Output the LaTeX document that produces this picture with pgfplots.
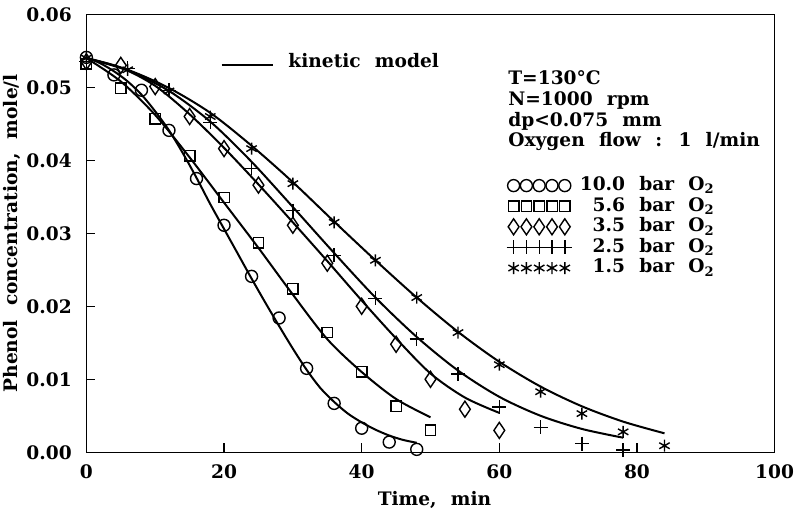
\documentclass[border=0pt]{standalone}
\usepackage{fontspec}
\setmainfont[WordSpace=2.2]{DejaVu Serif}
\usepackage{pgfplots}
\pgfplotsset{compat=1.18}

\pgfplotstableread{
t c
0 0.0541
4 0.0517
8 0.0496
12 0.0441
16 0.0375
20 0.0311
24 0.0241
28 0.0184
32 0.0115
36 0.0067
40 0.0033
44 0.0014
48 0.0004
}\dataA
\pgfplotstableread{
t c
0 0.0532
5 0.0499
10 0.0457
15 0.0406
20 0.0349
25 0.0287
30 0.0224
35 0.0164
40 0.0110
45 0.0063
50 0.0030
}\dataB
\pgfplotstableread{
t c
0 0.0535
5 0.0530
10 0.0501
15 0.0460
20 0.0416
25 0.0366
30 0.0311
35 0.0259
40 0.0200
45 0.0148
50 0.0100
55 0.0059
60 0.0030
}\dataC
\pgfplotstableread{
t c
0 0.0535
6 0.0526
12 0.0496
18 0.0452
24 0.0389
30 0.0331
36 0.0270
42 0.0211
48 0.0155
54 0.0107
60 0.0062
66 0.0034
72 0.0012
78 0.0003
}\dataD
\pgfplotstableread{
t c
0 0.0540
6 0.0524
12 0.0495
18 0.0460
24 0.0416
30 0.0368
36 0.0315
42 0.0263
48 0.0212
54 0.0164
60 0.0120
66 0.0083
72 0.0053
78 0.0028
84 0.0009
}\dataE

\pgfplotsset{fivemarks/.style={legend image code/.code={%
  \draw[only marks, mark repeat=1] plot coordinates {(0pt,0pt)(6.4pt,0pt)(12.8pt,0pt)(19.2pt,0pt)(25.6pt,0pt)};}}}

\begin{document}
\bfseries\fontsize{9.3}{10.3}\selectfont
\begin{tikzpicture}[font=\bfseries\fontsize{9.3}{10.3}\selectfont]
\begin{axis}[name=ax, scale only axis, width=344.1pt, height=219pt,
  xmin=0, xmax=100, ymin=0, ymax=0.06, clip=false,
  xtick={0,20,40,60,80,100}, ytick={0,0.01,0.02,0.03,0.04,0.05,0.06},
  scaled y ticks=false,
  yticklabel style={/pgf/number format/fixed, /pgf/number format/fixed zerofill, /pgf/number format/precision=2},
  /pgf/number format/assume math mode=true,
  tick align=inside, major tick length=4.5pt, xtick pos=bottom, ytick pos=left,
  axis line style={line width=0.75pt},
  every tick/.style={line width=0.6pt, black},
  xticklabel style={yshift=-3pt}, yticklabel style={xshift=-4pt},
  xlabel={Time, min}, ylabel={Phenol concentration, mole/l},
  ylabel style={yshift=-3.5pt}, xlabel style={xshift=2pt},
  legend style={at={(axis cs:61.0,0.0380)}, anchor=north west, draw=none, fill=none,
    inner sep=0pt, row sep=0pt, column sep=3pt,
    nodes={inner sep=1pt, text height=6.6pt, text depth=1.7pt, anchor=west}},
  legend cell align=left,
]
\addplot[only marks, mark=o, mark size=3pt, mark options={line width=0.7pt}, fivemarks] table[x=t,y=c] {\dataA};
\addlegendentry{10.0 bar O\textsubscript{2}}
\addplot[only marks, mark=square, mark size=2.6pt, mark options={line width=0.7pt}, fivemarks] table[x=t,y=c] {\dataB};
\addlegendentry{\hphantom{1}5.6 bar O\textsubscript{2}}
\addplot[only marks, mark=diamond, mark size=4pt, mark options={line width=0.7pt, xscale=0.9}, fivemarks] table[x=t,y=c] {\dataC};
\addlegendentry{\hphantom{1}3.5 bar O\textsubscript{2}}
\addplot[only marks, mark=+, mark size=3.5pt, mark options={line width=0.7pt}, fivemarks] table[x=t,y=c] {\dataD};
\addlegendentry{\hphantom{1}2.5 bar O\textsubscript{2}}
\addplot[only marks, mark=asterisk, mark size=3pt, mark options={line width=0.7pt}, fivemarks] table[x=t,y=c] {\dataE};
\addlegendentry{\hphantom{1}1.5 bar O\textsubscript{2}}

% kinetic model curves
\addplot[forget plot, no marks, smooth, line width=1pt] coordinates {
(0,0.0541) (2,0.0533) (4,0.0522) (6,0.0508) (8,0.0490) (10,0.0467) (12,0.0441) (14,0.0410) (16,0.0376) (18,0.0340) (20,0.0306) (22,0.0272) (24,0.0238) (26,0.0205) (28,0.0173) (30,0.0142) (32,0.0113) (34,0.0088) (36,0.0069) (38,0.0053) (40,0.0041) (42,0.0031) (44,0.0023) (46,0.0017) (48,0.0013)};
\addplot[forget plot, no marks, smooth, line width=1pt] coordinates {
(0,0.0540) (5,0.0508) (10,0.0462) (15,0.0404) (20,0.0342) (25,0.0280) (30,0.0216) (35,0.0155) (40,0.0110) (45,0.0073) (50,0.0048)};
\addplot[forget plot, no marks, smooth, line width=1pt] coordinates {
(0,0.0540) (5,0.0527) (10,0.0502) (15,0.0463) (20,0.0417) (25,0.0367) (30,0.0315) (35,0.0262) (40,0.0208) (45,0.0156) (50,0.0108) (55,0.0075) (60,0.0054)};
\addplot[forget plot, no marks, smooth, line width=1pt] coordinates {
(0,0.0540) (6,0.0523) (12,0.0495) (18,0.0453) (24,0.0398) (30,0.0336) (36,0.0273) (42,0.0212) (48,0.0158) (54,0.0112) (60,0.0076) (66,0.0050) (72,0.0032) (78,0.0020)};
\addplot[forget plot, no marks, smooth, line width=1pt] coordinates {
(0,0.0540) (6,0.0524) (12,0.0499) (18,0.0465) (24,0.0420) (30,0.0370) (36,0.0316) (42,0.0263) (48,0.0212) (54,0.0165) (60,0.0124) (66,0.0090) (72,0.0063) (78,0.0042) (84,0.0026)};

\draw[line width=1pt] (axis cs:19.66,0.05305) -- (axis cs:27.16,0.05305);
\node[anchor=west, inner sep=0pt] at (axis cs:29.3,0.0536) {kinetic model};
\node[anchor=north west, align=left, inner sep=0pt] at (axis cs:61.26,0.0523)
  {T=130°C\\N=1000 rpm\\dp<0.075 mm\\Oxygen flow : 1 l/min};
\end{axis}
\pgfresetboundingbox
\path ([shift={(-43.2pt,-27.85pt)}]ax.south west) rectangle ([shift={(11.7pt,7.15pt)}]ax.north east);
\end{tikzpicture}
\end{document}
